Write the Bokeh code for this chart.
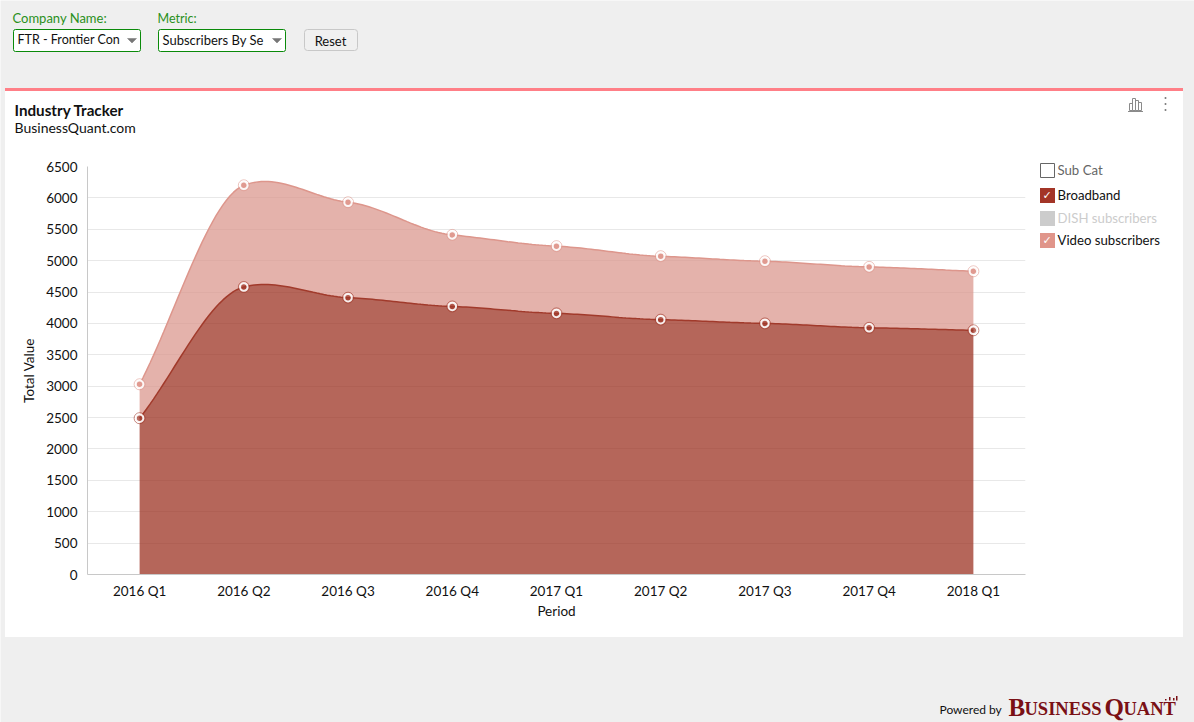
from bokeh.plotting import figure
from bokeh.embed import file_html
from bokeh.resources import INLINE
from bokeh.models import BoxAnnotation, Label, PolyAnnotation, FactorRange, Range1d, NumeralTickFormatter, SingleIntervalTicker
import numpy as np

periods = ["2016 Q1", "2016 Q2", "2016 Q3", "2016 Q4", "2017 Q1", "2017 Q2", "2017 Q3", "2017 Q4", "2018 Q1"]
broadband = [2490, 4580, 4410, 4270, 4160, 4060, 4000, 3930, 3890]
video = [540, 1620, 1520, 1140, 1070, 1010, 990, 970, 940]
legend_items = ["Sub Cat", "Broadband", "DISH subscribers", "Video subscribers"]

BG = "#efefef"
DARK = "#9c3323"
LIGHT = "#db988f"
FONT = "Lato"
TENSION = 0.225


def smooth(vals, n=30):
    """Hermite curve through the data values, returned in category coordinates."""
    v = np.array(vals, dtype=float)
    m = np.zeros(len(v))
    m[1:-1] = TENSION * (v[2:] - v[:-2])
    m[0] = v[1] - v[0]
    m[-1] = v[-1] - v[-2]
    xs, ys = [], []
    for i in range(len(v) - 1):
        t = np.linspace(0, 1, n, endpoint=False) if i < len(v) - 2 else np.linspace(0, 1, n + 1)
        ys.append((2*t**3 - 3*t**2 + 1)*v[i] + (t**3 - 2*t**2 + t)*m[i]
                  + (-2*t**3 + 3*t**2)*v[i+1] + (t**3 - t**2)*m[i+1])
        xs.append(i + 0.5 + t)
    return np.concatenate(xs), np.concatenate(ys)


stacked = [a + b for a, b in zip(broadband, video)]
x_b, y_b = smooth(broadband)
x_t, y_t = smooth(stacked)

# page furniture: a figure whose frame is the whole window, in pixel coordinates
bg = figure(width=1194, height=722, x_range=Range1d(0, 1194), y_range=Range1d(722, 0),
            x_axis_type=None, y_axis_type=None, output_backend="svg", toolbar_location=None,
            min_border=0, min_border_left=0, min_border_right=0, min_border_top=0, min_border_bottom=0)
bg.styles = {"position": "absolute", "left": "0px", "top": "0px"}
bg.outline_line_color = None
bg.background_fill_color = BG
bg.border_fill_color = BG
bg.grid.visible = False

# the chart proper, laid transparently over it
p = figure(width=1194, height=722, x_range=FactorRange(factors=periods), y_range=Range1d(0, 6500),
           output_backend="svg", toolbar_location=None,
           min_border_left=87, min_border_right=169, min_border_top=166, min_border_bottom=148)
p.styles = {"position": "absolute", "left": "0px", "top": "0px"}
p.outline_line_color = None
p.background_fill_color = None
p.border_fill_color = None

p.xgrid.grid_line_color = None
p.ygrid.grid_line_color = "#e8e8e8"
p.ygrid.grid_line_width = 1
p.yaxis.ticker = SingleIntervalTicker(interval=500)
p.yaxis.formatter = NumeralTickFormatter(format="0")
for ax in (p.xaxis[0], p.yaxis[0]):
    ax.axis_line_color = "#c8c8c8"
    ax.major_tick_line_color = None
    ax.minor_tick_line_color = None
    ax.major_label_text_font = FONT
    ax.major_label_text_font_size = "13.5px"
    ax.major_label_text_color = "#111111"
    ax.axis_label_text_font = FONT
    ax.axis_label_text_font_size = "13.5px"
    ax.axis_label_text_font_style = "normal"
    ax.axis_label_text_color = "#111111"
p.xaxis[0].axis_label = "Period"
p.yaxis[0].axis_label = "Total Value"
p.xaxis[0].major_label_standoff = 2
p.xaxis[0].axis_label_standoff = 1
p.yaxis[0].major_label_standoff = 4
p.yaxis[0].axis_label_standoff = 6


def _box(l, r, t, b, fill, line, radius):
    bg.add_layout(BoxAnnotation(left=l, right=r, top=t, bottom=b, left_units="canvas", right_units="canvas",
                                top_units="canvas", bottom_units="canvas", fill_color=fill,
                                fill_alpha=1 if fill else 0, line_color=line, line_width=1,
                                line_alpha=1 if line else 0, border_radius=radius, editable=False))


def solid(l, r, t, b, fill, radius=0):
    """Filled rectangle whose edges fall on the pixel edges l, r, t, b."""
    _box(l - 0.5, r - 0.5, t - 0.5, b - 0.5, fill, None, radius)


def framed(l, r, t, b, line, fill=None, radius=0):
    """One-pixel outline occupying pixels l..r-1, t..b-1."""
    _box(l, r - 1, t, b - 1, fill, line, radius)


def txt(x, y, s, size=13.5, color="#111111", font=FONT, style="normal", align="left"):
    bg.add_layout(Label(x=x - 1, y=y - 1, x_units="canvas", y_units="canvas", text=s, text_font=font,
                        text_font_size=f"{size}px", text_color=color, text_font_style=style,
                        text_align=align, text_baseline="middle"))


def poly(xs, ys, fill):
    bg.add_layout(PolyAnnotation(xs=[v - 1 for v in xs], ys=[v - 1 for v in ys], xs_units="canvas", ys_units="canvas",
                                 fill_color=fill, fill_alpha=1, line_color=fill, line_alpha=1, line_width=0.5,
                                 editable=False))


# card
solid(5, 1183, 91, 637, "#ffffff")
solid(5, 1183, 88, 91, "#ff7f87")

# areas
p.varea(x_b, np.zeros_like(y_b), y_b, fill_color=DARK, fill_alpha=0.75)
p.varea(x_t, y_b, y_t, fill_color=LIGHT, fill_alpha=0.75)
p.line(x_b, y_b, line_color="#a13a2b", line_width=1.5)
p.line(x_t, y_t, line_color="#dd968c", line_width=1.5)

# markers
for series, col, fa in ((broadband, "#a13a2b", 0.75), (stacked, "#e09a90", 1)):
    p.scatter(periods, series, size=11, fill_color=None, line_color=col, line_alpha=0.6, line_width=1)
    p.scatter(periods, series, size=7.5, fill_color=col, fill_alpha=fa, line_color="#ffffff", line_width=2, line_alpha=0.9)

# controls
txt(13, 18.5, "Company Name:", 13, "#2a9020")
txt(158, 18.5, "Metric:", 12.5, "#2a9020")
for l, r, s, size in ((13, 141, "FTR - Frontier Con", 12.5), (158, 286, "Subscribers By Se", 13)):
    framed(l, r, 29, 52, "#0a8a0a", fill="#ffffff", radius=2)
    txt(l + 5, 40, s, size, "#111111")
    poly([r - 13, r - 4, r - 8.5], [39, 39, 43.5], "#777777")
framed(304, 358, 29, 51, "#c8c8c8", fill="#f0f0f0", radius=3)
txt(331, 41.5, "Reset", 13, "#111111", align="center")

# title
txt(15, 110, "Industry Tracker", 15.2, "#111111", style="bold")
txt(15, 128, "BusinessQuant.com", 14, "#111111")

# icons
for l, r, t in ((1129, 1133, 103), (1132, 1136, 98), (1135, 1139, 100), (1138, 1142, 102)):
    framed(l, r, t, 111, "#8a8a8a")
solid(1128, 1143, 111, 112, "#8a8a8a")
for y in (98, 104, 110):
    solid(1164.5, 1166.5, y - 1, y + 1, "#777777", radius=1)

# legend
legend_rows = [(163, None, "#666666", "#666666"), (188, "#a33527", "#111111", None),
               (211, "#cccccc", "#cccccc", None), (233, "#e0958a", "#111111", None)]
for name, (top, fill, tcol, line) in zip(legend_items, legend_rows):
    if fill:
        solid(1040, 1055, top, top + 15, fill)
    else:
        framed(1040, 1055, top, top + 15, line)
    txt(1058, top + 7.5, name, 13.2, tcol)
    if fill in ("#a33527", "#e0958a"):
        txt(1047.7, top + 7.5, "\u2713", 11, "#ffffff", font="DejaVu Sans", align="center")

# footer
txt(940, 710, "Powered by", 12, "#111111")
LOGO = "#7a1015"
SERIF = "Liberation Serif"
txt(1009, 708, "B", 25, LOGO, SERIF, style="bold")
txt(1025, 709.5, "USINESS", 18.5, LOGO, SERIF, style="bold")
txt(1105, 708, "Q", 25, LOGO, SERIF, style="bold")
txt(1124, 709.5, "UANT", 18.5, LOGO, SERIF, style="bold")
for l, t in ((1165, 699), (1169, 697), (1173, 698), (1176, 696)):
    solid(l, l + 1.5, t, 700.5, LOGO)

open("out.html", "w").write(file_html((bg, p), INLINE))
